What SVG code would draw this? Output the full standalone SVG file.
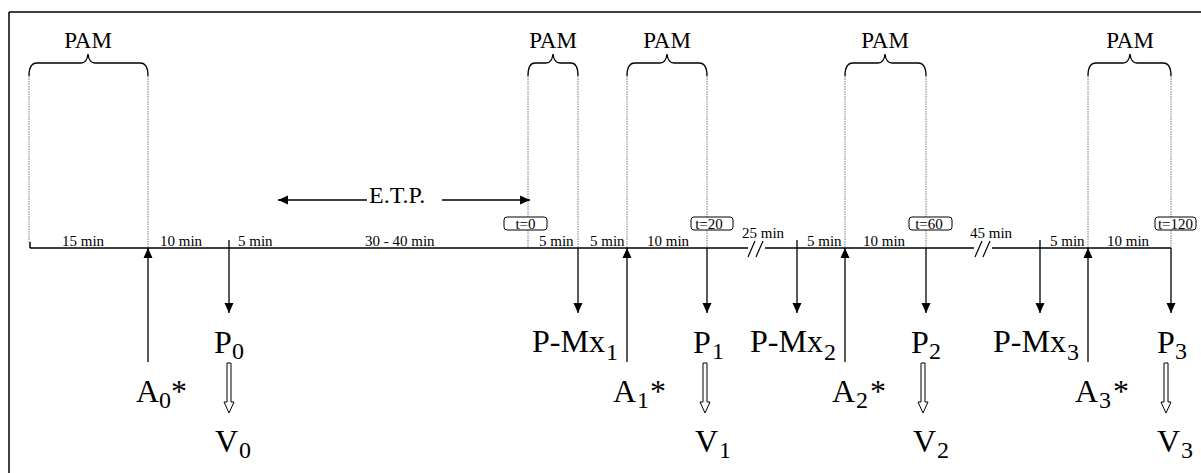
<svg xmlns="http://www.w3.org/2000/svg" width="1201" height="473" viewBox="0 0 1201 473">
<defs>
<style>
text{font-family:"Liberation Serif","Times New Roman",serif;fill:#000}
.big{font-size:32px}
.sub{font-size:24px}
.pam{font-size:23px;text-anchor:middle}
.min{font-size:15px}
.tb{font-size:15px;text-anchor:middle}
.dot{stroke:#7a7a7a;stroke-width:1;stroke-dasharray:1.5 1;fill:none}
.brace{stroke:#000;stroke-width:1.3;fill:none}
.axis{stroke:#000;stroke-width:1.5;fill:none}
.arr{stroke:#000;stroke-width:1.3;fill:none;marker-end:url(#ah)}
.hol{stroke:#000;stroke-width:1;fill:#fff}
.box{stroke:#000;stroke-width:1;fill:#fff}
</style>
<marker id="ah" markerUnits="userSpaceOnUse" markerWidth="10" markerHeight="10" viewBox="0 0 10 10" refX="10" refY="5" orient="auto">
<path d="M0,0.5 L10,5 L0,9.5 Z" fill="#000"/>
</marker>
</defs>
<rect width="1201" height="473" fill="#fff"/>
<g id="frame" stroke="#000" stroke-width="1.5" fill="none">
<line x1="9" y1="12" x2="1201" y2="12"/>
<line x1="9" y1="12" x2="9" y2="473"/>
</g>

<g id="pam-brackets">
<text class="pam" x="88" y="48">PAM</text>
<path class="brace" d="M29,76 Q29,63 37,63 L81,63 Q87,63 88,54 Q89,63 95,63 L140,63 Q148,63 148,76"/>
<text class="pam" x="553" y="48">PAM</text>
<path class="brace" d="M528,76 Q528,63 535,63 L546,63 Q552,63 553,54 Q554,63 560,63 L571,63 Q578,63 578,76"/>
<text class="pam" x="667" y="48">PAM</text>
<path class="brace" d="M627,76 Q627,63 635,63 L660,63 Q666,63 667,54 Q668,63 674,63 L699,63 Q707,63 707,76"/>
<text class="pam" x="885" y="48">PAM</text>
<path class="brace" d="M845,76 Q845,63 853,63 L878,63 Q884,63 885,54 Q886,63 892,63 L918,63 Q926,63 926,76"/>
<text class="pam" x="1130" y="48">PAM</text>
<path class="brace" d="M1088,76 Q1088,63 1096,63 L1123,63 Q1129,63 1130,54 Q1131,63 1137,63 L1163,63 Q1171,63 1171,76"/>
</g>

<g id="guides">
<line class="dot" x1="29" y1="76" x2="29" y2="242"/>
<line class="dot" x1="148" y1="76" x2="148" y2="248"/>
<line class="dot" x1="528" y1="76" x2="528" y2="217"/>
<line class="dot" x1="528" y1="230" x2="528" y2="248"/>
<line class="dot" x1="578" y1="76" x2="578" y2="248"/>
<line class="dot" x1="627" y1="76" x2="627" y2="248"/>
<line class="dot" x1="707" y1="76" x2="707" y2="217"/>
<line class="dot" x1="707" y1="230" x2="707" y2="248"/>
<line class="dot" x1="845" y1="76" x2="845" y2="248"/>
<line class="dot" x1="926" y1="76" x2="926" y2="217"/>
<line class="dot" x1="926" y1="230" x2="926" y2="248"/>
<line class="dot" x1="1088" y1="76" x2="1088" y2="248"/>
<line class="dot" x1="1171" y1="76" x2="1171" y2="217"/>
<line class="dot" x1="1171" y1="230" x2="1171" y2="248"/>
</g>

<g id="time-boxes">
<rect class="box" x="504" y="217" width="43" height="13" rx="3"/>
<text class="tb" x="525.5" y="228.5">t=0</text>
<rect class="box" x="691" y="217" width="42" height="13" rx="3"/>
<text class="tb" x="709" y="228.5">t=20</text>
<rect class="box" x="909" y="217" width="43" height="13" rx="3"/>
<text class="tb" x="929" y="228.5">t=60</text>
<rect class="box" x="1155" y="217" width="41" height="13" rx="3"/>
<text class="tb" x="1175.5" y="228.5">t=120</text>
</g>

<g id="etp">
<text x="369" y="203" style="font-size:24px">E.T.P.</text>
</g>

<g id="timeline">
<line class="axis" x1="30" y1="248" x2="748" y2="248"/>
<line class="axis" x1="765" y1="248" x2="974" y2="248"/>
<line class="axis" x1="992" y1="248" x2="1171" y2="248"/>
<line class="axis" x1="30" y1="242" x2="30" y2="248"/>
<line stroke="#000" stroke-width="1.2" x1="748" y1="257" x2="755" y2="241"/>
<line stroke="#000" stroke-width="1.2" x1="756" y1="257" x2="763" y2="241"/>
<line stroke="#000" stroke-width="1.2" x1="975" y1="257" x2="982" y2="241"/>
<line stroke="#000" stroke-width="1.2" x1="983" y1="257" x2="990" y2="241"/>
<text class="min" x="62" y="246">15 min</text>
<text class="min" x="160" y="246">10 min</text>
<text class="min" x="238" y="246">5 min</text>
<text class="min" x="365" y="246">30 - 40 min</text>
<text class="min" x="539" y="246">5 min</text>
<text class="min" x="590" y="246">5 min</text>
<text class="min" x="647" y="246">10 min</text>
<text class="min" x="742" y="238">25 min</text>
<text class="min" x="807" y="246">5 min</text>
<text class="min" x="863" y="246">10 min</text>
<text class="min" x="970" y="238">45 min</text>
<text class="min" x="1050" y="246">5 min</text>
<text class="min" x="1107" y="246">10 min</text>
</g>

<g id="connectors">
<line class="arr" x1="367" y1="200" x2="278" y2="200"/>
<line class="arr" x1="442" y1="200" x2="530" y2="200"/>
<line class="arr" x1="229" y1="240" x2="229" y2="313"/>
<line class="arr" x1="578" y1="248" x2="578" y2="313"/>
<line class="arr" x1="707" y1="248" x2="707" y2="313"/>
<line class="arr" x1="797" y1="240" x2="797" y2="313"/>
<line class="arr" x1="926" y1="248" x2="926" y2="313"/>
<line class="arr" x1="1040" y1="240" x2="1040" y2="313"/>
<line class="arr" x1="1171" y1="248" x2="1171" y2="313"/>
<line class="arr" x1="148" y1="362" x2="148" y2="248"/>
<line class="arr" x1="627" y1="362" x2="627" y2="248"/>
<line class="arr" x1="845" y1="362" x2="845" y2="248"/>
<line class="arr" x1="1088" y1="362" x2="1088" y2="248"/>
<path class="hol" d="M227,363 L231,363 L231,402 L234,402 L229,413 L224,402 L227,402 Z"/>
<path class="hol" d="M703,363 L707,363 L707,402 L710,402 L705,413 L700,402 L703,402 Z"/>
<path class="hol" d="M921,363 L925,363 L925,402 L928,402 L923,413 L918,402 L921,402 Z"/>
<path class="hol" d="M1164,363 L1168,363 L1168,402 L1171,402 L1166,413 L1161,402 L1164,402 Z"/>
</g>

<g id="node-P0"><text class="big" x="214" y="353">P<tspan class="sub" x="232" y="359">0</tspan></text></g>
<g id="node-V0"><text class="big" x="215" y="452">V<tspan class="sub" x="239" y="458">0</tspan></text></g>
<g id="node-A0"><text class="big" x="136" y="402">A<tspan class="sub" x="159" y="408">0</tspan><tspan x="171" y="402">*</tspan></text></g>

<g id="node-PMx1"><text class="big" x="532" y="352">P-Mx<tspan class="sub" x="606" y="360">1</tspan></text></g>
<g id="node-A1"><text class="big" x="613" y="402">A<tspan class="sub" x="637" y="408">1</tspan><tspan x="650" y="402">*</tspan></text></g>
<g id="node-P1"><text class="big" x="693" y="353">P<tspan class="sub" x="712" y="359">1</tspan></text></g>
<g id="node-V1"><text class="big" x="695" y="452">V<tspan class="sub" x="719" y="458">1</tspan></text></g>

<g id="node-PMx2"><text class="big" x="750" y="352">P-Mx<tspan class="sub" x="824" y="360">2</tspan></text></g>
<g id="node-A2"><text class="big" x="832" y="402">A<tspan class="sub" x="856" y="408">2</tspan><tspan x="870" y="402">*</tspan></text></g>
<g id="node-P2"><text class="big" x="911" y="353">P<tspan class="sub" x="929" y="359">2</tspan></text></g>
<g id="node-V2"><text class="big" x="913" y="452">V<tspan class="sub" x="937" y="458">2</tspan></text></g>

<g id="node-PMx3"><text class="big" x="993" y="352">P-Mx<tspan class="sub" x="1067" y="360">3</tspan></text></g>
<g id="node-A3"><text class="big" x="1075" y="402">A<tspan class="sub" x="1099" y="408">3</tspan><tspan x="1113" y="402">*</tspan></text></g>
<g id="node-P3"><text class="big" x="1157" y="353">P<tspan class="sub" x="1175" y="359">3</tspan></text></g>
<g id="node-V3"><text class="big" x="1157" y="452">V<tspan class="sub" x="1181" y="458">3</tspan></text></g>
</svg>
